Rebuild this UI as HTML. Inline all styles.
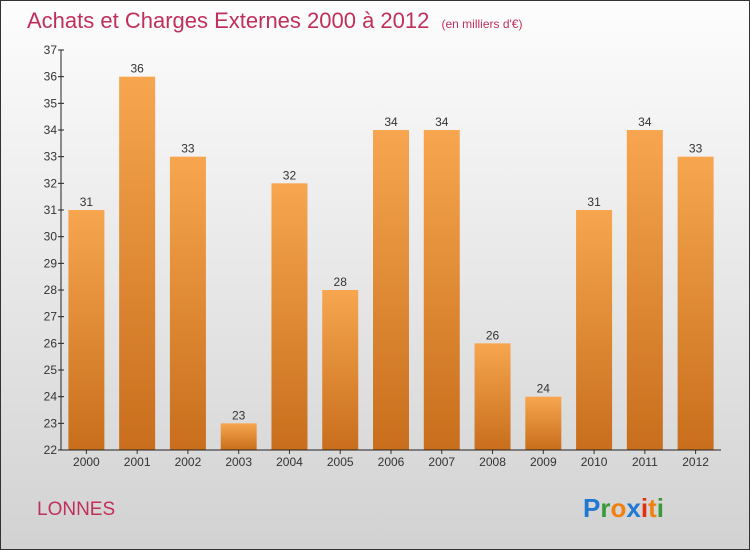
<!DOCTYPE html>
<html><head><meta charset="utf-8"><style>
body{margin:0}
#c{width:748px;height:548px;border:1px solid #333;position:relative;background:linear-gradient(#fdfdfd,#f0f0f0 30%,#d2d2d2);font-family:"Liberation Sans",sans-serif;overflow:hidden}
</style></head><body>
<div id="c">
<svg width="748" height="548" id="svg">
<defs><linearGradient id="g" x1="0" y1="0" x2="0" y2="1"><stop offset="0" stop-color="#f7a64f"/><stop offset="1" stop-color="#c86e1c"/></linearGradient></defs>
<text x="26" y="27" font-size="22" fill="#c0305a">Achats et Charges Externes 2000 à 2012 <tspan font-size="12" dx="6">(en milliers d'€)</tspan></text>
<text x="36" y="514" font-size="19" fill="#c0305a">LONNES</text>
<g font-size="26" font-weight="bold" font-family="'Liberation Sans',sans-serif"><text x="582" y="516"><tspan fill="#1f78d1">P</tspan><tspan fill="#3a9a3a">r</tspan><tspan fill="#f08010">o</tspan><tspan fill="#1f78d1">x</tspan><tspan fill="#e03010">i</tspan><tspan fill="#f08010">t</tspan><tspan fill="#3a9a3a">i</tspan></text></g>
<g id="plot"></g>
</svg></div>
<script>
const years=["2000","2001","2002","2003","2004","2005","2006","2007","2008","2009","2010","2011","2012"];
const values=[31,36,33,23,32,28,34,34,26,24,31,34,33];
const yTicks=[22,23,24,25,26,27,28,29,30,31,32,33,34,35,36,37];
const ns="http://www.w3.org/2000/svg";
const g=document.getElementById('plot');
const y0=449,y1=49,vmin=22,vmax=37,x0=60,x1=720;
const Y=v=>y0-(v-vmin)/(vmax-vmin)*(y0-y1);
const step=(x1-x0)/years.length;
const X=i=>x0+step*(i+0.5);
function mk(t,a){const e=document.createElementNS(ns,t);for(const k in a)e.setAttribute(k,a[k]);g.appendChild(e);return e;}
values.forEach((v,i)=>{
 const b=mk('rect',{x:X(i)-18,y:Y(v),width:36,height:y0-Y(v),fill:'url(#g)'});
 
 
 const t=mk('text',{x:X(i),y:Y(v)-4,'font-size':12,fill:'#333','text-anchor':'middle'});
 t.textContent=v;
 
 
 const xl=mk('text',{x:X(i),y:y0+16,'font-size':12,fill:'#333','text-anchor':'middle'});
 xl.textContent=years[i];
 
 
 mk('line',{x1:X(i),x2:X(i),y1:y0,y2:y0+4,stroke:'#333'});
});
yTicks.forEach(v=>{
 mk('line',{x1:x0-3,x2:x0+3,y1:Y(v),y2:Y(v),stroke:'#222'});
 const t=mk('text',{x:x0-4,y:Y(v)+4,'font-size':12,fill:'#333','text-anchor':'end'});
 t.textContent=v;
 
 
});
const ya=mk('line',{x1:x0,x2:x0,y1:y1,y2:y0,stroke:'#222'});


const xa=mk('line',{x1:x0,x2:x1,y1:y0,y2:y0,stroke:'#222'});


</script>
</body></html>
